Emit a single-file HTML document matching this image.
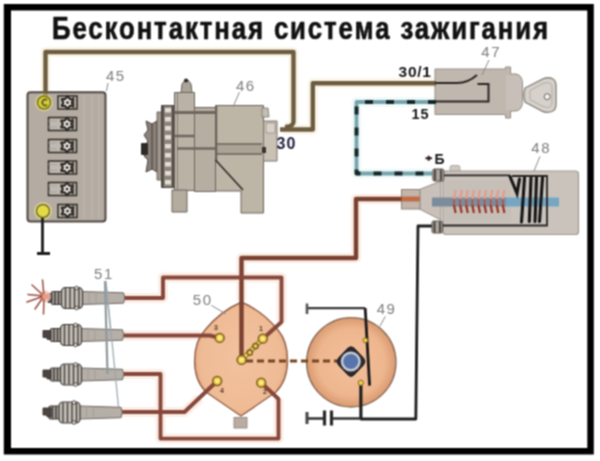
<!DOCTYPE html>
<html><head><meta charset="utf-8">
<style>
html,body{margin:0;padding:0;background:#fff;}
body{width:600px;height:461px;overflow:hidden;position:relative;font-family:"Liberation Sans",sans-serif;}
svg{position:absolute;left:0;top:0;}
</style></head>
<body>
<svg width="600" height="461" viewBox="0 0 600 461" font-family="Liberation Sans">
<defs>
  <filter id="soft" filterUnits="userSpaceOnUse" x="0" y="0" width="600" height="461" color-interpolation-filters="sRGB"><feConvolveMatrix order="3" kernelMatrix="1 2 1 2 4 2 1 2 1" divisor="16" edgeMode="duplicate"/></filter>
  <radialGradient id="sg" cx="0.5" cy="0.5" r="0.5">
    <stop offset="0" stop-color="#f2bf9a"/>
    <stop offset="0.75" stop-color="#eeb68e"/>
    <stop offset="1" stop-color="#d99a70"/>
  </radialGradient>
  <radialGradient id="cg" cx="0.5" cy="0.5" r="0.55">
    <stop offset="0" stop-color="#f2c29e"/>
    <stop offset="0.8" stop-color="#eebb95"/>
    <stop offset="1" stop-color="#e0a27c"/>
  </radialGradient>
</defs>
<g filter="url(#soft)">
<rect x="0" y="0" width="600" height="461" fill="#fff"/>

<!-- title -->
<text transform="translate(52,38.6) scale(0.86,1.035)" x="0" y="0" font-weight="bold" font-size="30" letter-spacing="2.2" fill="#111" stroke="#111" stroke-width="0.6">Бесконтактная система зажигания</text>

<!-- ===== WIRE HALOS ===== -->
<g fill="none" stroke-linejoin="round">
  <g stroke="#f8f1de" stroke-width="10" opacity="0.7">
    <path d="M45.5 102 V52 H293.5 V122 Q293 127 285 127"/>
    <path d="M283 129.5 H312.8 V83.3 H436"/>
  </g>
  <g stroke="#fae3d6" stroke-width="10" opacity="0.6">
    <path d="M419 199 H356 V258 H241.5 V300"/>
    <path d="M124 298 H163 V277.5 H281.5 V322"/>
    <path d="M124 335.5 H200"/>
    <path d="M124 374 H160.5 V438.6 H278.5 V399"/>
    <path d="M120 412 H184.5 L200 398"/>
  </g>
  <g stroke="#eef8f8" stroke-width="10" opacity="0.8">
    <path d="M436 102 H356.5 V173.5 H432"/>
  </g>
</g>

<!-- ===== BATTERY 45 ===== -->
<g>
  <rect x="27.5" y="92.3" width="78" height="129.2" rx="3" fill="#b4aca2" stroke="#4f4843" stroke-width="2"/>
  <path d="M84 95 V220 M92 95 V220 M99 95 V220" stroke="#bdb5ab" stroke-width="1.5"/>
  <g transform="translate(67.5,102.5)">
    <rect x="-9.5" y="-6.5" width="19" height="13" fill="#c0b9b1" stroke="#2f2a26" stroke-width="1.5"/>
    <path d="M0 -5.6 L2 -2.9 L5 -2.9 L3.6 0 L5 2.9 L2 2.9 L0 5.6 L-2 2.9 L-5 2.9 L-3.6 0 L-5 -2.9 L-2 -2.9 Z" transform="scale(1.15)" fill="#f0ece6" stroke="#2f2a26" stroke-width="1.9" stroke-linejoin="round"/>
    <circle cx="0" cy="0" r="1.5" fill="#3d3733"/>
    <path d="M6 -5.5 V5.5" stroke="#3d3733" stroke-width="1.6"/>
</g>
  <g transform="translate(67,124)">
    <rect x="-18.5" y="-6.5" width="28" height="13" fill="#c0b9b1" stroke="#2f2a26" stroke-width="1.5"/>
    <path d="M-18.5 -3 H-10 M-18.5 3 H-10" stroke="#a8a098" stroke-width="1"/>
    <path d="M0 -5.6 L2 -2.9 L5 -2.9 L3.6 0 L5 2.9 L2 2.9 L0 5.6 L-2 2.9 L-5 2.9 L-3.6 0 L-5 -2.9 L-2 -2.9 Z" transform="scale(1.15)" fill="#f0ece6" stroke="#2f2a26" stroke-width="1.9" stroke-linejoin="round"/>
    <circle cx="0" cy="0" r="1.5" fill="#3d3733"/>
    <path d="M6 -5.5 V5.5" stroke="#3d3733" stroke-width="1.6"/>
</g>
  <g transform="translate(67,146)">
    <rect x="-18.5" y="-6.5" width="28" height="13" fill="#c0b9b1" stroke="#2f2a26" stroke-width="1.5"/>
    <path d="M-18.5 -3 H-10 M-18.5 3 H-10" stroke="#a8a098" stroke-width="1"/>
    <path d="M0 -5.6 L2 -2.9 L5 -2.9 L3.6 0 L5 2.9 L2 2.9 L0 5.6 L-2 2.9 L-5 2.9 L-3.6 0 L-5 -2.9 L-2 -2.9 Z" transform="scale(1.15)" fill="#f0ece6" stroke="#2f2a26" stroke-width="1.9" stroke-linejoin="round"/>
    <circle cx="0" cy="0" r="1.5" fill="#3d3733"/>
    <path d="M6 -5.5 V5.5" stroke="#3d3733" stroke-width="1.6"/>
</g>
  <g transform="translate(67,167.5)">
    <rect x="-18.5" y="-6.5" width="28" height="13" fill="#c0b9b1" stroke="#2f2a26" stroke-width="1.5"/>
    <path d="M-18.5 -3 H-10 M-18.5 3 H-10" stroke="#a8a098" stroke-width="1"/>
    <path d="M0 -5.6 L2 -2.9 L5 -2.9 L3.6 0 L5 2.9 L2 2.9 L0 5.6 L-2 2.9 L-5 2.9 L-3.6 0 L-5 -2.9 L-2 -2.9 Z" transform="scale(1.15)" fill="#f0ece6" stroke="#2f2a26" stroke-width="1.9" stroke-linejoin="round"/>
    <circle cx="0" cy="0" r="1.5" fill="#3d3733"/>
    <path d="M6 -5.5 V5.5" stroke="#3d3733" stroke-width="1.6"/>
</g>
  <g transform="translate(67,189)">
    <rect x="-18.5" y="-6.5" width="28" height="13" fill="#c0b9b1" stroke="#2f2a26" stroke-width="1.5"/>
    <path d="M-18.5 -3 H-10 M-18.5 3 H-10" stroke="#a8a098" stroke-width="1"/>
    <path d="M0 -5.6 L2 -2.9 L5 -2.9 L3.6 0 L5 2.9 L2 2.9 L0 5.6 L-2 2.9 L-5 2.9 L-3.6 0 L-5 -2.9 L-2 -2.9 Z" transform="scale(1.15)" fill="#f0ece6" stroke="#2f2a26" stroke-width="1.9" stroke-linejoin="round"/>
    <circle cx="0" cy="0" r="1.5" fill="#3d3733"/>
    <path d="M6 -5.5 V5.5" stroke="#3d3733" stroke-width="1.6"/>
</g>
  <g transform="translate(67.5,211)">
    <rect x="-9.5" y="-6.5" width="19" height="13" fill="#c0b9b1" stroke="#2f2a26" stroke-width="1.5"/>
    <path d="M0 -5.6 L2 -2.9 L5 -2.9 L3.6 0 L5 2.9 L2 2.9 L0 5.6 L-2 2.9 L-5 2.9 L-3.6 0 L-5 -2.9 L-2 -2.9 Z" transform="scale(1.15)" fill="#f0ece6" stroke="#2f2a26" stroke-width="1.9" stroke-linejoin="round"/>
    <circle cx="0" cy="0" r="1.5" fill="#3d3733"/>
    <path d="M6 -5.5 V5.5" stroke="#3d3733" stroke-width="1.6"/>
</g>
  <text x="106" y="81" font-size="15" letter-spacing="1.5" fill="#7d7d7d">45</text>
  <path d="M108 83 L106.5 91" stroke="#8a8a8a" stroke-width="1"/>
</g>

<!-- ===== ALTERNATOR 46 ===== -->
<g stroke-linejoin="round">
  <!-- pulley -->
  <path d="M146 121 L152 124 L157 121 V172 L152 169 L146 172 L148 160 L144 156 L148 152 L144 147 L148 141 L144 135 L148 130 Z" fill="#8a827a" stroke="#4a433e" stroke-width="1"/>
  <path d="M152 124 V169" stroke="#5a534d" stroke-width="1.5"/>
  <rect x="141" y="143" width="7" height="12" rx="1" fill="#2e2a27"/>
  <rect x="157" y="112" width="5" height="68" fill="#a0988f" stroke="#5a534d" stroke-width="0.8"/>
  <!-- fan -->
  <rect x="161.5" y="105.5" width="12.5" height="82" fill="#8d857b" stroke="#4a433e" stroke-width="1"/>
  <g fill="#e2ddd6">
    <rect x="165" y="108" width="6" height="4.5"/>
    <rect x="165" y="117" width="6" height="4.5"/>
    <rect x="165" y="126" width="6" height="4.5"/>
    <rect x="165" y="135" width="6" height="4.5"/>
    <rect x="165" y="144" width="6" height="4.5"/>
    <rect x="165" y="153" width="6" height="4.5"/>
    <rect x="165" y="162" width="6" height="4.5"/>
    <rect x="165" y="171" width="6" height="4.5"/>
    <rect x="165" y="180" width="6" height="4.5"/>
  </g>
  <path d="M163 106 V187 M172.8 106 V187" stroke="#4e4741" stroke-width="1.6"/>
  <!-- front housing -->
  <rect x="174.5" y="92.5" width="20" height="98" fill="#bab3a5" stroke="#6a625b" stroke-width="1"/>
  <path d="M181 92.5 L182 84 L185 80 L188 80 L191 84 L192 92.5 Z" fill="#aaa398" stroke="#6a625b" stroke-width="1"/>
  <circle cx="186" cy="80.5" r="2" fill="#2b2623"/>
  <rect x="172" y="190" width="15" height="22" fill="#b3ac9f" stroke="#6a625b" stroke-width="1"/>
  <path d="M177.5 93 V190" stroke="#857d73" stroke-width="1"/>
  <!-- mid -->
  <rect x="194.5" y="107.5" width="21" height="84" fill="#b6afa1" stroke="#6a625b" stroke-width="1"/>
  <!-- rear housing -->
  <path d="M215.5 105.5 H263.5 V213 H241 V191 H215.5 Z" fill="#bdb6a7" stroke="#6a625b" stroke-width="1"/>
  <path d="M262 108 H268 L269 117 H262 Z" fill="#c4bdb0" stroke="#7a726a" stroke-width="0.8"/>
  <rect x="263.5" y="121" width="13.5" height="40" fill="#c8c1b4" stroke="#7a726a" stroke-width="1"/>
  <rect x="266" y="123" width="9" height="10" fill="#d8d2c8" stroke="#8a827a" stroke-width="0.6"/>
  <rect x="262" y="147" width="4" height="6" fill="#3a3430"/>
  <!-- dark bands -->
  <path d="M174.5 112.5 H215" stroke="#6f6760" stroke-width="3"/>
  <path d="M174.5 136 H194.5" stroke="#6f6760" stroke-width="2.5"/>
  <path d="M177 148.5 H215" stroke="#6f6760" stroke-width="2.5"/>
  <rect x="216" y="144" width="46" height="10" fill="#aba496"/>
  <path d="M216 144 H262 M216 154 H262" stroke="#6a625b" stroke-width="1.3"/>
  <path d="M216.5 106 V160" stroke="#6a625b" stroke-width="1.5"/>
  <path d="M215.5 160 L243 190" stroke="#2e2926" stroke-width="1.6"/>
  <text x="236" y="90.7" font-size="15" letter-spacing="1.5" fill="#7d7d7d">46</text>
  <path d="M239.5 92 L233 107" stroke="#8a8a8a" stroke-width="1"/>
  <text x="276.5" y="148.9" font-size="16" letter-spacing="1.2" font-weight="bold" fill="#1c1c3a">30</text>
</g>

<!-- ===== IGNITION SWITCH 47 ===== -->
<g>
    <path d="M435 69 H505.6 V67 H510.6 V74 H516 Q522.5 75 522.5 84 V101 Q522.5 110 516 111 H510.6 V118 H505.6 V114.5 H435 Z" fill="#c0b7ae" stroke="#958d85" stroke-width="1"/>
  <path d="M506 75 H516 Q522 76 522 84 V101 Q522 109 516 110 H506 Z" fill="#c8c0b8"/>
  <path d="M525 88 L543 78.8 Q548.5 76.5 553 79 Q556 81 556 86 V104 Q556 109 553 111 Q548.5 113.5 543 111.5 L525 102 Q523 95 525 88 Z" fill="#d6d2cb" stroke="#8a847c" stroke-width="1.4"/>
  <path d="M530 90.5 L543 83.5 Q548 81.5 550.5 83.5 Q552 85 552 88 V102 Q552 105 550.5 106.5 Q548 108.5 543 106.5 L530 99.5 Z" fill="none" stroke="#b0aaa3" stroke-width="1"/>
  <circle cx="547.2" cy="96.7" r="3" fill="#f4f1ec" stroke="#6a645e" stroke-width="1"/>
  <text x="398.6" y="77" font-size="15.5" letter-spacing="0.7" font-weight="bold" fill="#151515">30/1</text>
  <text x="411.5" y="118.5" font-size="14.5" letter-spacing="1" font-weight="bold" fill="#151515">15</text>
  <text x="481.3" y="57.4" font-size="15" letter-spacing="1.5" fill="#7d7d7d">47</text>
  <path d="M489 60 L482 75" stroke="#8a8a8a" stroke-width="1"/>
</g>

<!-- ===== COIL 48 ===== -->
<g>
  <rect x="450" y="165.5" width="10" height="7" rx="2" fill="#d0c9c2" stroke="#a29a93" stroke-width="0.8"/>
  <rect x="443" y="171" width="135.5" height="63.5" rx="3" fill="#cac3bc" stroke="#9f978f" stroke-width="1.2"/>
  <path d="M419.5 189.5 L441 181 V220 L419.5 209 Z" fill="#c8c0b9" stroke="#958d85" stroke-width="1"/>
  <rect x="401.5" y="189.5" width="18.5" height="19.5" fill="#c4b4aa" stroke="#8a827a" stroke-width="1"/>
  <rect x="445" y="180" width="66" height="42" fill="#c6bfb8"/>
  <!-- core -->
  <rect x="432" y="197.5" width="74" height="9" fill="#7d8c9a"/>
  <rect x="506" y="197.5" width="53" height="9" fill="#76a6c4"/>
  <!-- red windings -->
  <path d="M455.6 190 L454.0 199 M461.7 190 L460.1 199 M467.8 190 L466.2 199 M473.9 190 L472.3 199 M480.0 190 L478.4 199 M486.1 190 L484.5 199 M492.2 190 L490.6 199 M498.3 190 L496.7 199 M504.4 190 L502.8 199" stroke="#e49a8c" stroke-width="2.2" fill="none"/>
  <path d="M454.0 205 L455.6 213 M460.1 205 L461.7 213 M466.2 205 L467.8 213 M472.3 205 L473.9 213 M478.4 205 L480.0 213 M484.5 205 L486.1 213 M490.6 205 L492.2 213 M496.7 205 L498.3 213 M502.8 205 L504.4 213" stroke="#9a3424" stroke-width="2.2" fill="none"/>
  <path d="M454.0 199 L454.0 205 M460.1 199 L460.1 205 M466.2 199 L466.2 205 M472.3 199 L472.3 205 M478.4 199 L478.4 205 M484.5 199 L484.5 205 M490.6 199 L490.6 205 M496.7 199 L496.7 205 M502.8 199 L502.8 205" stroke="#b0504a" stroke-width="1.6" fill="none"/>
</g>

<!-- ===== DISTRIBUTOR CAP 50 (body) ===== -->
<path d="M241.5 302 Q220 311.5 205 330 C192 344 190 376 206 392 L241 416 L276 392 C292 376 290 344 278 330 Q263 311.5 241.5 302 Z" fill="url(#cg)" stroke="#946048" stroke-width="1.4" stroke-linejoin="round"/>
<rect x="234" y="417.5" width="13" height="10.5" fill="#b9aca4" stroke="#8a7a70" stroke-width="0.8"/>

<!-- ===== SENSOR 49 (body) ===== -->
<circle cx="351.3" cy="362.3" r="44.7" fill="url(#sg)" stroke="#8a6a58" stroke-width="1.3"/>

<!-- ===== WIRES ===== -->
<g fill="none" stroke-linejoin="round">
  <!-- battery + to alternator 30 -->
  <path d="M45.5 102 V52 H293.5 V122 Q293 127 285 127" stroke="#6c5c40" stroke-width="4.4"/>
  <!-- alt 30 to switch 30/1 -->
  <path d="M280 129.5 H312.8 V83.3 H436" stroke="#6c5c40" stroke-width="4.4"/>
  <!-- switch 15 blue dashed -->
  <path d="M436 102 H356.5 V173.5 H432" stroke="#76a4ac" stroke-width="3.8"/>
  <path d="M436 102 H356.5 V173.5 H432" stroke="#142626" stroke-width="3.9" stroke-dasharray="8 13"/>
  <!-- HV coil to cap center -->
  <path d="M419 199 H356 V258 H241.5 V360" stroke="#7a4030" stroke-width="4.4"/>
  <path d="M401.5 199 H420" stroke="#c86a40" stroke-width="4"/>
  <!-- coil bottom black to sensor -->
  <path d="M437 226 H418 L415.8 419 H361 V383" stroke="#1e1e1e" stroke-width="2.8"/>
  <!-- capacitor line -->
  <path d="M361 418.5 H332 M324 418.5 H307" stroke="#333" stroke-width="2.6"/>
  <path d="M307 412 V424" stroke="#444" stroke-width="3"/>
  <path d="M324.5 410.5 V425.5 M331.5 410.5 V425.5" stroke="#2a2a2a" stroke-width="3.2"/>
  <!-- plug wires -->
  <g stroke="#87473a" stroke-width="3.9">
    <path d="M124 298 H163 V277.5 H281.5 V322 L262.8 338.7"/>
    <path d="M124 335.5 H210 L219.7 337.9"/>
    <path d="M124 374 H160.5 V438.6 H278.5 V399 L261.2 382.7"/>
    <path d="M120 412 H184.5 L217.2 381"/>
  </g>
  <!-- dashed link cap-sensor -->
  <path d="M246 361 H337" stroke="#74461f" stroke-width="3" stroke-dasharray="7 4"/>
</g>

<!-- ===== BATTERY terminals ===== -->
<circle cx="44" cy="102.5" r="9" fill="#e6e08a" opacity="0.6"/>
<circle cx="44" cy="102.5" r="6.5" fill="#d4cc35" stroke="#7a7220" stroke-width="1.5"/>
<path d="M47 100 A3 3 0 1 0 47 105" stroke="#5a5420" stroke-width="1.6" fill="none"/>
<circle cx="43" cy="211" r="9" fill="#eee890" opacity="0.6"/>
<circle cx="43" cy="211" r="6.5" fill="#e3da48" stroke="#7a7220" stroke-width="1.5"/>
<path d="M42.5 218 V253 M37 253.5 H50" stroke="#1e1e1e" stroke-width="2.8" fill="none"/>

<!-- ===== SWITCH internals ===== -->
<path d="M435 83 H457 Q468 83 477 75" stroke="#2a2522" stroke-width="2" fill="none"/>
<path d="M477.5 84 H488.5 V101.5 H435" stroke="#2a2522" stroke-width="2" fill="none"/>

<!-- ===== COIL internals ===== -->
<path d="M443.5 175.3 H510 M442.5 225.5 H547 V176 H512" stroke="#2a2624" stroke-width="1.8" fill="none"/>
<path d="M510 176.5 L517 193.5 L519.5 179 M524.5 178 L521.5 222 M531 178 L529.3 221.5 M536.5 178 L535 221.5 M542.5 178 L539.5 221.5" stroke="#161616" stroke-width="3.1" fill="none" stroke-linecap="round"/>
<rect x="432.8" y="169" width="11" height="12" rx="1.5" fill="#aaa29a" stroke="#5a534d" stroke-width="1"/>
<path d="M435 169.5 V180.5 M441 169.5 V180.5" stroke="#3a3431" stroke-width="1.6"/>
<rect x="432" y="221" width="10.5" height="12" rx="1.5" fill="#aaa29a" stroke="#5a534d" stroke-width="1"/>
<path d="M434.5 221.5 V232.5 M440 221.5 V232.5" stroke="#3a3431" stroke-width="1.6"/>
<text x="531.3" y="153.3" font-size="15" letter-spacing="1.5" fill="#7d7d7d">48</text>
<path d="M540 156.3 L534 171" stroke="#8a8a8a" stroke-width="1"/>
<path d="M425.5 158.3 H432 M428.7 155.8 V160.8" stroke="#2a1a1a" stroke-width="2"/><text x="434.5" y="163.5" font-size="14" font-weight="bold" fill="#151515">Б</text>

<!-- ===== CAP terminals ===== -->
<path d="M241.6 359.9 L262.8 338.7" stroke="#a08030" stroke-width="5" fill="none"/>
<path d="M241.6 359.9 L262.8 338.7" stroke="#f0dc70" stroke-width="2.6" fill="none"/>
<g fill="#f2d24a" stroke="#7a5a20" stroke-width="1.5">
  <circle cx="241.6" cy="359.9" r="4.4"/>
  <circle cx="219.7" cy="337.9" r="4.4"/>
  <circle cx="262.8" cy="338.7" r="4.4"/>
  <circle cx="217.2" cy="381" r="4.4"/>
  <circle cx="261.2" cy="382.7" r="4.4"/>
  <circle cx="255.5" cy="346" r="2.6"/>
  <circle cx="249.8" cy="352.6" r="2.6"/>
</g>
<g fill="#fbeea0">
  <circle cx="241.6" cy="359.9" r="1.8"/>
  <circle cx="219.7" cy="337.9" r="1.8"/>
  <circle cx="262.8" cy="338.7" r="1.8"/>
  <circle cx="217.2" cy="381" r="1.8"/>
  <circle cx="261.2" cy="382.7" r="1.8"/>
</g>
<g font-size="7" fill="#5a3a20" font-weight="bold">
  <text x="214" y="330">3</text>
  <text x="259" y="331">1</text>
  <text x="220" y="393">4</text>
  <text x="263" y="394">2</text>
</g>
<text x="192.8" y="304.5" font-size="15" letter-spacing="1.5" fill="#7d7d7d">50</text>
<path d="M211.4 305.4 L226 314" stroke="#8a8a8a" stroke-width="1"/>

<!-- ===== SENSOR details ===== -->
<path d="M348 348 Q351 345.5 354 348 L363.5 358 Q366.5 361.5 363.5 365 L354 375 Q351 378 348 375 L338.5 365 Q335.5 361.5 338.5 358 Z" fill="#2c2a30" stroke="#1e1c20" stroke-width="1"/>
<circle cx="350.8" cy="361.5" r="10" fill="#c8ccd4"/>
<circle cx="350.8" cy="361.5" r="7.6" fill="#5874ac"/>
<path d="M307 308.2 H365.2" stroke="#3a3a3a" stroke-width="2.2" fill="none"/>
<path d="M365.2 308.2 L369.6 385.7" stroke="#1a1a1a" stroke-width="2.8" fill="none"/>
<path d="M307 303.5 V314" stroke="#555" stroke-width="2.6"/>
<path d="M360.8 383 V418" stroke="#1e1e1e" stroke-width="2.6"/>
<circle cx="365.4" cy="340.3" r="2.4" fill="#f2d24a" stroke="#7a5a20" stroke-width="0.9"/>
<circle cx="360.8" cy="382.8" r="2.6" fill="#f2d24a" stroke="#7a5a20" stroke-width="0.9"/>
<text x="376.7" y="313.7" font-size="15" letter-spacing="1.5" fill="#7d7d7d">49</text>
<path d="M385.4 316.3 L379.8 326.3" stroke="#8a8a8a" stroke-width="1"/>

<!-- ===== SPARK PLUGS 51 ===== -->
<g transform="translate(1,298)">
    <path d="M81 -6.5 L122.5 -5.2 Q125 0 122.5 5.2 L81 6.5 Z" fill="#b6afa8" stroke="#6e6862" stroke-width="1"/>
    <path d="M88 -6.2 V6.2 M95 -6 V6" stroke="#a19a93" stroke-width="0.9"/>
    <rect x="50.5" y="-6.5" width="10.5" height="13" rx="1.5" fill="#a9a39d" stroke="#3e3935" stroke-width="1.1"/>
    <path d="M54 -6.5 V6.5 M57.5 -6.5 V6.5" stroke="#3e3935" stroke-width="1.4"/>
    <rect x="60.5" y="-10.5" width="21" height="21" rx="4" fill="#c4beb8" stroke="#3e3935" stroke-width="1.2"/>
    <path d="M64.5 -10 V10 M69 -10 V10 M73.5 -10 V10 M78 -10 V10" stroke="#48423d" stroke-width="1.4"/>
    <circle cx="75.5" cy="-10" r="1.8" fill="#eeeae6" stroke="#3e3935" stroke-width="0.9"/>
    <circle cx="75.5" cy="10" r="1.8" fill="#eeeae6" stroke="#3e3935" stroke-width="0.9"/>
</g>
<g transform="translate(0,335)">
    <path d="M81 -6.5 L122.5 -5.2 Q125 0 122.5 5.2 L81 6.5 Z" fill="#b6afa8" stroke="#6e6862" stroke-width="1"/>
    <path d="M88 -6.2 V6.2 M95 -6 V6" stroke="#a19a93" stroke-width="0.9"/>
    <rect x="50.5" y="-6.5" width="10.5" height="13" rx="1.5" fill="#a9a39d" stroke="#3e3935" stroke-width="1.1"/>
    <path d="M54 -6.5 V6.5 M57.5 -6.5 V6.5" stroke="#3e3935" stroke-width="1.4"/>
    <rect x="60.5" y="-10.5" width="21" height="21" rx="4" fill="#c4beb8" stroke="#3e3935" stroke-width="1.2"/>
    <path d="M64.5 -10 V10 M69 -10 V10 M73.5 -10 V10 M78 -10 V10" stroke="#48423d" stroke-width="1.4"/>
    <circle cx="75.5" cy="-10" r="1.8" fill="#eeeae6" stroke="#3e3935" stroke-width="0.9"/>
    <circle cx="75.5" cy="10" r="1.8" fill="#eeeae6" stroke="#3e3935" stroke-width="0.9"/>
</g>
<g transform="translate(0,335)">
    <path d="M43 -4.5 H51 V4.5 H47.5 L46 2.5 H43 Z" fill="#4a4540" stroke="#2e2a27" stroke-width="0.8"/>
</g>
<g transform="translate(0,374.5)">
    <path d="M81 -6.5 L122.5 -5.2 Q125 0 122.5 5.2 L81 6.5 Z" fill="#b6afa8" stroke="#6e6862" stroke-width="1"/>
    <path d="M88 -6.2 V6.2 M95 -6 V6" stroke="#a19a93" stroke-width="0.9"/>
    <rect x="50.5" y="-6.5" width="10.5" height="13" rx="1.5" fill="#a9a39d" stroke="#3e3935" stroke-width="1.1"/>
    <path d="M54 -6.5 V6.5 M57.5 -6.5 V6.5" stroke="#3e3935" stroke-width="1.4"/>
    <rect x="60.5" y="-10.5" width="21" height="21" rx="4" fill="#c4beb8" stroke="#3e3935" stroke-width="1.2"/>
    <path d="M64.5 -10 V10 M69 -10 V10 M73.5 -10 V10 M78 -10 V10" stroke="#48423d" stroke-width="1.4"/>
    <circle cx="75.5" cy="-10" r="1.8" fill="#eeeae6" stroke="#3e3935" stroke-width="0.9"/>
    <circle cx="75.5" cy="10" r="1.8" fill="#eeeae6" stroke="#3e3935" stroke-width="0.9"/>
</g>
<g transform="translate(0,374.5)">
    <path d="M43 -4.5 H51 V4.5 H47.5 L46 2.5 H43 Z" fill="#4a4540" stroke="#2e2a27" stroke-width="0.8"/>
</g>
<g transform="translate(-1.5,412.5)">
    <path d="M81 -6.5 L122.5 -5.2 Q125 0 122.5 5.2 L81 6.5 Z" fill="#b6afa8" stroke="#6e6862" stroke-width="1"/>
    <path d="M88 -6.2 V6.2 M95 -6 V6" stroke="#a19a93" stroke-width="0.9"/>
    <rect x="50.5" y="-6.5" width="10.5" height="13" rx="1.5" fill="#a9a39d" stroke="#3e3935" stroke-width="1.1"/>
    <path d="M54 -6.5 V6.5 M57.5 -6.5 V6.5" stroke="#3e3935" stroke-width="1.4"/>
    <rect x="60.5" y="-10.5" width="21" height="21" rx="4" fill="#c4beb8" stroke="#3e3935" stroke-width="1.2"/>
    <path d="M64.5 -10 V10 M69 -10 V10 M73.5 -10 V10 M78 -10 V10" stroke="#48423d" stroke-width="1.4"/>
    <circle cx="75.5" cy="-10" r="1.8" fill="#eeeae6" stroke="#3e3935" stroke-width="0.9"/>
    <circle cx="75.5" cy="10" r="1.8" fill="#eeeae6" stroke="#3e3935" stroke-width="0.9"/>
</g>
<g transform="translate(0,412.5)">
    <path d="M43 -4.5 H51 V4.5 H47.5 L46 2.5 H43 Z" fill="#4a4540" stroke="#2e2a27" stroke-width="0.8"/>
</g>
<path d="M48 293.5 H52 V302.5 H48 Z" fill="#4e4a44" stroke="#3a3531" stroke-width="0.8"/>
<circle cx="45" cy="296.5" r="6" fill="#f4c0ae" opacity="0.8"/>
<g stroke="#9a4c40" stroke-width="1.5" fill="none" stroke-linecap="round">
  <path d="M44 296 L42.5 280 M44 296 L43.5 314 M44 296 L32 285 M44 296 L28 294.5 M44 296 L27 302 M44 296 L35 309"/>
</g>
<circle cx="45" cy="296.5" r="3" fill="#e89a84"/>
<text x="94.1" y="278.5" font-size="15" letter-spacing="1.5" fill="#7d7d7d">51</text>
<path d="M105 281 L107.5 374" stroke="#8e989e" stroke-width="2.2" fill="none"/>
<path d="M106 281 L118.5 407 M105.5 281 L111 335" stroke="#9aa4aa" stroke-width="1.2" fill="none"/>

<!-- frame -->
<path d="M3.8 3.9 H593.8 V454.4 H3.8 Z M11 10.6 V448 H587.3 V10.6 Z" fill="#000" fill-rule="evenodd"/>
</g>
</svg>
</body></html>
